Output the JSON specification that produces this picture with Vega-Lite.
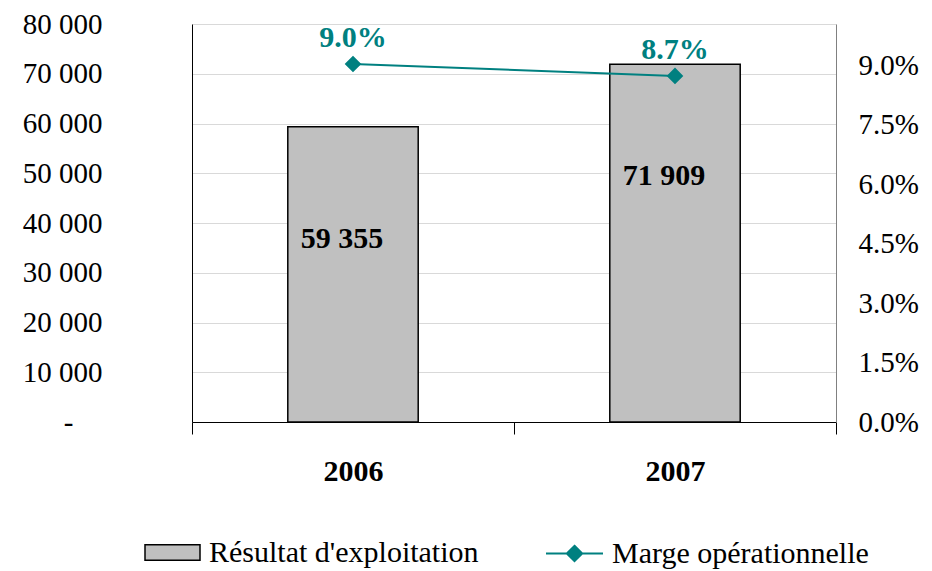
{
  "$schema": "https://vega.github.io/schema/vega-lite/v6.json",
  "width": 644,
  "height": 398,
  "autosize": "none",
  "padding": {"left": 192, "top": 24, "right": 96, "bottom": 149},
  "config": {
    "locale": {"number": {"decimal": ".", "thousands": " ", "grouping": [3], "currency": ["", ""]}},
    "view": {"stroke": null},
    "font": "Liberation Serif",
    "axis": {"labelFont": "Liberation Serif", "labelColor": "black"},
    "legend": {"labelFont": "Liberation Serif", "labelFontSize": 30, "labelColor": "black", "labelLimit": 0, "orient": "none", "direction": "horizontal", "padding": 0, "labelOffset": 8}
  },
  "data": {
    "values": [
      {"year": "2006", "resultat": 59355, "marge": 0.0904},
      {"year": "2007", "resultat": 71909, "marge": 0.0874}
    ]
  },
  "encoding": {
    "x": {
      "field": "year",
      "type": "nominal",
      "scale": {"paddingInner": 0, "paddingOuter": 0},
      "axis": {
        "title": null,
        "labelAngle": 0,
        "labelFontWeight": "bold",
        "labelFontSize": 30,
        "labelPadding": 22,
        "tickBand": "extent",
        "tickSize": 12,
        "tickColor": "black",
        "domainColor": "black",
        "domainWidth": 1,
        "grid": false
      }
    }
  },
  "layer": [
    {
      "encoding": {
        "y": {
          "field": "resultat",
          "type": "quantitative",
          "scale": {"domain": [0, 80000], "nice": false},
          "axis": {
            "title": null,
            "values": [0, 10000, 20000, 30000, 40000, 50000, 60000, 70000, 80000],
            "format": ",d",
            "labelExpr": "datum.value === 0 ? '-\u00a0\u00a0\u00a0\u00a0\u200b' : datum.label",
            "ticks": false,
            "labelPadding": 90,
            "labelFontSize": 29,
            "domainColor": "black",
            "gridColor": "#d9d9d9",
            "gridWidth": 1
          }
        }
      },
      "layer": [
        {
          "mark": {"type": "bar", "stroke": "black", "strokeWidth": 1.5, "width": {"band": 0.405}},
          "encoding": {
            "fill": {
              "datum": "Résultat d'exploitation",
              "type": "nominal",
              "scale": {"range": ["#c0c0c0"]},
              "legend": {
                "title": null,
                "orient": "none",
                "legendX": -48,
                "legendY": 500,
                "symbolSize": 3025,
                "symbolType": "M-1,-0.28H1V0.28H-1Z",
                "symbolStrokeColor": "black",
                "symbolStrokeWidth": 1.5
              }
            }
          }
        },
        {
          "mark": {"type": "text", "fontWeight": "bold", "fontSize": 30, "font": "Liberation Serif", "color": "black", "baseline": "middle", "dy": 112, "dx": -11},
          "encoding": {
            "text": {"field": "resultat", "type": "quantitative", "format": ",d"}
          }
        }
      ]
    },
    {
      "encoding": {
        "y": {
          "field": "marge",
          "type": "quantitative",
          "scale": {"domain": [0, 0.1005], "nice": false},
          "axis": {
            "orient": "right",
            "title": null,
            "values": [0, 0.015, 0.03, 0.045, 0.06, 0.075, 0.09],
            "format": ".1%",
            "grid": false,
            "ticks": false,
            "labelPadding": 22,
            "labelFontSize": 29,
            "domainColor": "#808080"
          }
        }
      },
      "layer": [
        {
          "mark": {"type": "line", "strokeWidth": 2, "point": {"shape": "diamond", "filled": true, "size": 190, "color": "#008080"}},
          "encoding": {
            "stroke": {
              "datum": "Marge opérationnelle",
              "type": "nominal",
              "scale": {"range": ["#008080"]},
              "legend": {
                "title": null,
                "orient": "none",
                "legendX": 353,
                "legendY": 500,
                "symbolSize": 3249,
                "symbolType": "M-1,0H1M0,-0.27L0.27,0L0,0.27L-0.27,0Z",
                "symbolFillColor": "#008080",
                "symbolStrokeWidth": 2
              }
            }
          }
        },
        {
          "mark": {"type": "text", "fontWeight": "bold", "fontSize": 30, "font": "Liberation Serif", "color": "#008080", "baseline": "middle", "dy": -26},
          "encoding": {
            "text": {"field": "marge", "type": "quantitative", "format": ".1%"}
          }
        }
      ]
    }
  ],
  "resolve": {"scale": {"y": "independent"}}
}
